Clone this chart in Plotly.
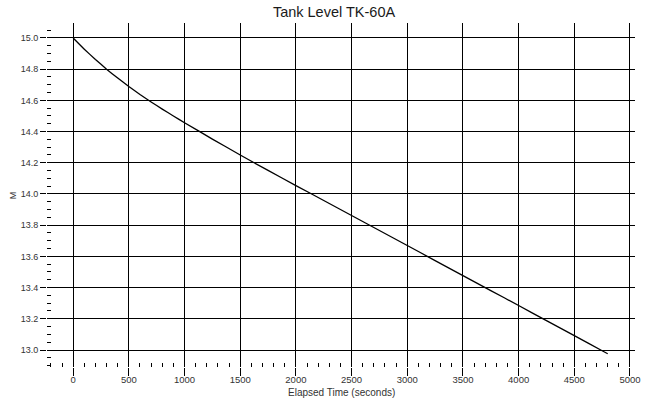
import plotly.graph_objects as go

# Tank TK-60A level trend
elapsed_s = [0, 100, 200, 300, 400, 500, 600, 700, 800, 900, 1000, 1250, 1500,
             1750, 2000, 2250, 2500, 2750, 3000, 3250, 3500, 3750, 4000, 4250,
             4500, 4750, 4800]
level_m = [15.000, 14.928, 14.862, 14.800, 14.743, 14.689, 14.638, 14.590,
           14.544, 14.500, 14.457, 14.352, 14.250, 14.151, 14.054, 13.958,
           13.862, 13.766, 13.670, 13.573, 13.477, 13.381, 13.285, 13.188,
           13.092, 12.995, 12.976]

title_text = "Tank Level TK-60A"
x_title = "Elapsed Time (seconds)"
y_title = "M"

W, H = 653, 403
L, R, T, B = 47, 14, 23, 36
font_family = "Liberation Sans, Arial, sans-serif"

fig = go.Figure()
fig.add_trace(go.Scatter(
    x=elapsed_s, y=level_m, mode="lines",
    line=dict(color="black", width=1.3, shape="spline", smoothing=0.3),
    showlegend=False, hoverinfo="skip",
))

fig.update_layout(
    width=W, height=H,
    margin=dict(l=L, r=R, t=T, b=B, pad=0),
    paper_bgcolor="white", plot_bgcolor="white",
    font=dict(family=font_family, size=9, color="#333333"),
    title=dict(text=title_text, font=dict(size=14.5, color="#1a1a1a"),
               x=334 / W, xref="container", xanchor="center",
               y=1 - 12 / H, yref="container", yanchor="middle"),
    xaxis=dict(
        range=[-235, 5045], dtick=500, tick0=0,
        showgrid=True, gridcolor="black", gridwidth=1,
        zeroline=False, showline=False,
        ticks="outside", ticklen=8, tickcolor="black", tickwidth=1,
        ticklabelstandoff=-4,
        minor=dict(dtick=100, tick0=0, ticks="inside", ticklen=4,
                   tickcolor="black", tickwidth=1, showgrid=False),
        tickfont=dict(size=9.5, color="#333333"),
    ),
    yaxis=dict(
        range=[12.891, 15.096], dtick=0.2, tick0=13.0, tickformat=".1f",
        showgrid=True, gridcolor="black", gridwidth=1,
        zeroline=False, showline=False,
        ticks="outside", ticklen=6, tickcolor="black", tickwidth=1,
        minor=dict(dtick=0.05, tick0=13.0, ticks="inside", ticklen=4,
                   tickcolor="black", tickwidth=1, showgrid=False),
        tickfont=dict(size=9, color="#333333"),
    ),
)

plot_w = W - L - R
plot_h = H - T - B
fig.add_annotation(text=x_title, xref="paper", yref="paper",
                   x=(343 - L) / plot_w, y=-(393 - (H - B)) / plot_h,
                   showarrow=False, xanchor="center", yanchor="middle",
                   font=dict(size=10, color="#333333"))
fig.add_annotation(text=y_title, xref="paper", yref="paper",
                   x=-(L - 13) / plot_w, y=0.5, textangle=-90,
                   showarrow=False, xanchor="center", yanchor="middle",
                   font=dict(size=9, color="#333333"))

fig.write_html("out.html")
